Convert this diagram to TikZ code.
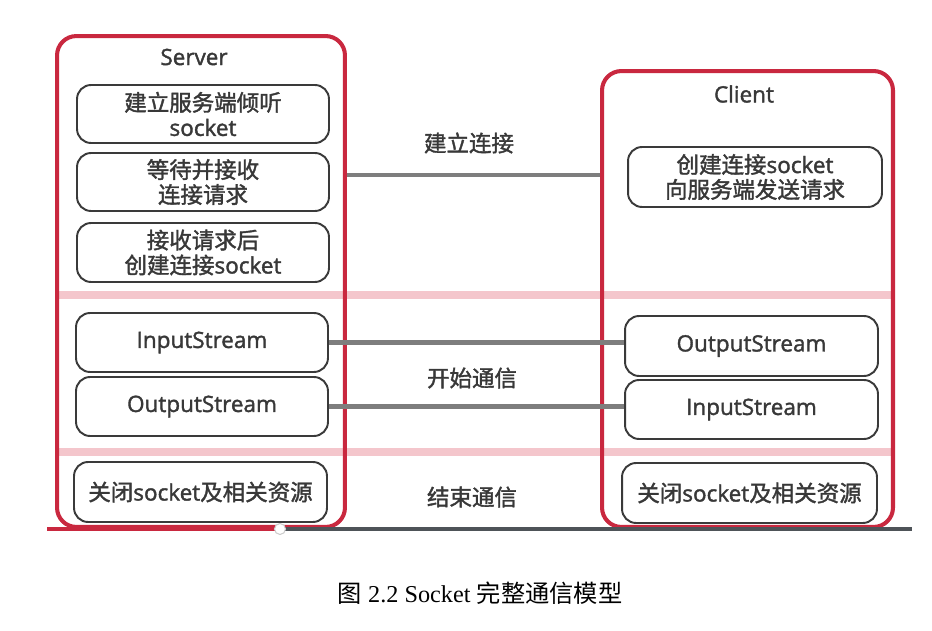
\documentclass[tikz,border=0pt]{standalone}
\usepackage{fontspec}
\setmainfont{Open Sans}[FakeBold=1.6]
\newfontfamily\cjk{Noto Sans CJK SC}[FakeBold=1.6]
\newfontfamily\capcjk{Noto Sans CJK SC}
\newfontfamily\capfont{Liberation Serif}
\definecolor{framered}{HTML}{C9283F}
\definecolor{bandpink}{HTML}{F4C6CC}
\definecolor{boxline}{HTML}{3A3A3A}
\definecolor{txt}{HTML}{383838}
\definecolor{linkgray}{HTML}{7E7E7E}
\definecolor{bargray}{HTML}{4E5358}
\begin{document}
\begin{tikzpicture}[x=0.02cm,y=-0.02cm]
            \tikzset{frame/.style 2 args={draw=framered, line width=2.3pt, rounded corners=11pt, minimum width=#1, minimum height=#2, inner sep=0pt}};
            \tikzset{msgbox/.style 2 args={draw=boxline, line width=1.1pt, rounded corners=8pt, fill=white, minimum width=#1, minimum height=#2, inner sep=0pt, align=center, text=txt, font=\fontsize{12.8}{14.2}\selectfont}};
            \tikzset{title/.style={text=txt, font=\fontsize{12.8}{14.2}\selectfont}};
            \tikzset{link/.style={draw=linkgray, line width=2.8pt}};
            \useasboundingbox (0,0) rectangle (932,631);
            
            \draw[bandpink, line width=4pt] (57,295) -- (893,295);
            \draw[bandpink, line width=4pt] (57,452) -- (893,452);
            
            \node[frame={5.76cm}{9.82cm}] (srv) at (201,281.5) {};
            \node[frame={5.82cm}{9.12cm}] (cli) at (747.5,299) {};
            
            \node[title] (tsrv) at (194,57) {Server};
            \node[title] (tcli) at (744,94) {Client};
            
            \node[msgbox={5.04cm}{1.16cm}] (s1) at (203,114) {{\cjk 建立服务端倾听}\\socket};
            \node[msgbox={5.04cm}{1.16cm}] (s2) at (203,182) {{\cjk 等待并接收}\\{\cjk 连接请求}};
            \node[msgbox={5.04cm}{1.18cm}] (s3) at (203,252.5) {{\cjk 接收请求后}\\{\cjk 创建连接}socket};
            \node[msgbox={5.04cm}{1.18cm}] (s4) at (202,342.5) {InputStream};
            \node[msgbox={5.04cm}{1.18cm}] (s5) at (202,406.5) {OutputStream};
            \node[msgbox={5.06cm}{1.2cm}] (s6) at (200.5,492) {{\cjk 关闭}socket{\cjk 及相关资源}};
            
            \node[msgbox={5.08cm}{1.2cm}] (c1) at (755,177) {{\cjk 创建连接}socket\\{\cjk 向服务端发送请求}};
            \node[msgbox={5.06cm}{1.2cm}] (c2) at (751.5,346) {OutputStream};
            \node[msgbox={5.06cm}{1.18cm}] (c3) at (751.5,409.5) {InputStream};
            \node[msgbox={5.1cm}{1.2cm}] (c4) at (749.5,493) {{\cjk 关闭}socket{\cjk 及相关资源}};
            
            \node[title] (l1) at (469,143) {\cjk 建立连接};
            \node[title] (l2) at (472,378) {\cjk 开始通信};
            \node[title] (l3) at (472,497) {\cjk 结束通信};
            
            \coordinate (k) at (470,175);
            \draw[link] (srv.east |- k) -- (cli.west |- k);
            \draw[link] (s4.east) -- (s4.east -| c2.west);
            \draw[link] (s5.east) -- (s5.east -| c3.west);
            
            \draw[bargray, line width=2.6pt] (280,529) -- (912,529);
            \draw[framered, line width=2.6pt] (47,529) -- (280,529);
            \draw[fill=white, draw=gray!40, line width=0.6pt] (280,529) circle (5.5);
            
            \node[text=black, font=\fontsize{13.8}{16}\selectfont] (cap) at (480,593) {{\capcjk 图} {\capfont 2.2 Socket} {\capcjk 完整通信模型}};
        \end{tikzpicture}
\end{document}
